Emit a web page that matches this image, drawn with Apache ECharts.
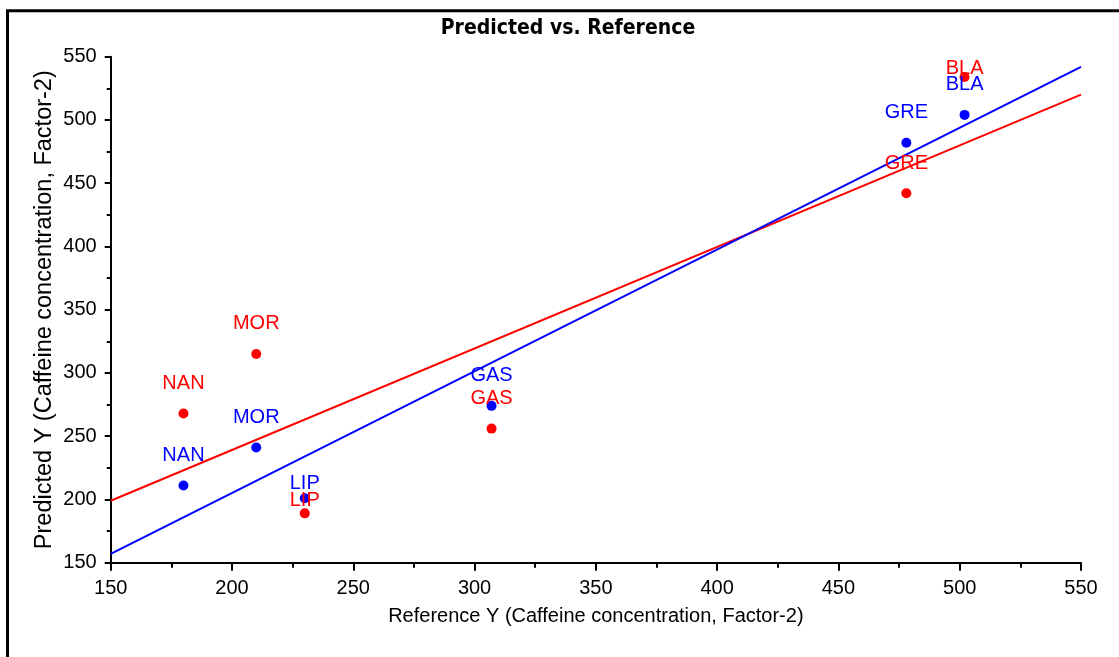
<!DOCTYPE html>
<html>
<head>
<meta charset="utf-8">
<script src="https://cdn.jsdelivr.net/npm/echarts@6/dist/echarts.min.js"></script>
<style>
  html, body { margin: 0; padding: 0; background: #fff; }
  #main { width: 1119px; height: 657px; }
</style>
</head>
<body>
<div id="main"></div>
<script>
// samples and values
const samples = ['NAN', 'MOR', 'LIP', 'GAS', 'GRE', 'BLA']
const referenceY = [180, 210, 230, 307, 478, 502]
const predictedBlue = [211, 241, 201, 274, 482, 504]
const predictedRed = [268, 315, 189, 256, 442, 534]

// fitted lines, end points
const fitBlue = [[150, 157], [550, 542]]
const fitRed = [[150, 199], [550, 520]]

const xTicks = [150, 550, 50]
const yTicks = [150, 550, 50]

// labels that sit lower than the rest (px)
const labelShift = {
  blue: { LIP: 15 },
  red: { LIP: 17, BLA: 22 }
}

const font = 'Liberation Sans, Arial, sans-serif'

const myChart = echarts.init(document.getElementById('main'), null, { renderer: 'canvas' })

function points (ys, key) {
  return samples.map((name, i) => {
    const item = { name, value: [referenceY[i], ys[i]] }
    const shift = labelShift[key][name]
    if (shift) item.label = { offset: [0, shift] }
    return item
  })
}

function axis (ticks, name, gap, nameSize) {
  return {
    type: 'value',
    min: ticks[0],
    max: ticks[1],
    interval: ticks[2],
    name,
    nameLocation: 'middle',
    nameGap: gap,
    nameMoveOverlap: false,
    nameTextStyle: { color: '#000', fontFamily: font, fontSize: nameSize },
    axisLine: { show: true, lineStyle: { color: '#000', width: 2 } },
    axisTick: { show: true, length: 8, lineStyle: { color: '#000', width: 2 } },
    minorTick: { show: true, splitNumber: 2, length: 5, lineStyle: { color: '#000', width: 2 } },
    splitLine: { show: false },
    minorSplitLine: { show: false },
    axisLabel: { color: '#000', fontFamily: font, fontSize: 20 }
  }
}

const xAxis = axis(xTicks, 'Reference Y (Caffeine concentration, Factor-2)', 44, 20)
xAxis.axisLabel.margin = 16
const yAxis = axis(yTicks, 'Predicted Y (Caffeine concentration, Factor-2)', 54, 23.5)
yAxis.axisLabel.margin = 14
yAxis.axisTick.length = 6
yAxis.minorTick.length = 4

function dots (ys, key, color) {
  return {
    type: 'scatter',
    data: points(ys, key),
    symbol: 'circle',
    symbolSize: 10,
    itemStyle: { color, opacity: 1 },
    label: {
      show: true,
      position: 'top',
      distance: 15,
      formatter: '{b}',
      color,
      fontFamily: font,
      fontSize: 20
    },
    z: 3
  }
}

function fit (data, color) {
  return {
    type: 'line',
    data,
    symbol: 'none',
    lineStyle: { color, width: 2 },
    silent: true,
    z: 2
  }
}

const option = {
  animation: false,
  backgroundColor: '#fff',
  grid: { left: 110.7, right: 38, top: 56.7, bottom: 94.3, containLabel: false },
  xAxis,
  yAxis,
  graphic: [
    {
      type: 'rect',
      shape: { x: 7.5, y: 10.8, width: 1300, height: 1000 },
      style: { fill: 'none', stroke: '#000', lineWidth: 3 },
      silent: true
    },
    {
      type: 'text',
      x: 568,
      y: 29,
      style: {
        text: 'Predicted vs. Reference',
        fill: '#000',
        font: 'bold 21px "DejaVu Sans Condensed", "Liberation Sans Narrow", sans-serif',
        textAlign: 'center',
        textVerticalAlign: 'middle'
      }
    }
  ],
  series: [
    fit(fitRed, '#ff0000'),
    fit(fitBlue, '#0000ff'),
    dots(predictedRed, 'red', '#ff0000'),
    dots(predictedBlue, 'blue', '#0000ff')
  ]
}

myChart.setOption(option)
</script>
</body>
</html>
